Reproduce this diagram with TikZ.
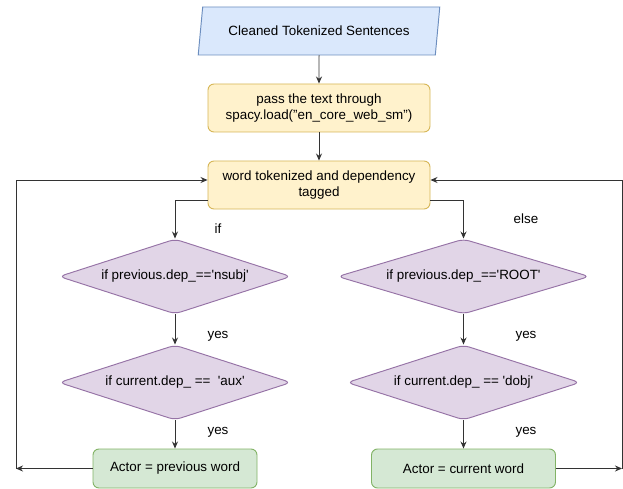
\documentclass[tikz,border=0pt]{standalone}
\usepackage{fontspec}
\setmainfont{Liberation Sans}
\usepackage{xcolor}
\usepackage{tikz}
\usetikzlibrary{shapes.geometric,arrows.meta}

\definecolor{inblue}{HTML}{DAE8FC}
\definecolor{inbluel}{HTML}{6C8EBF}
\definecolor{procy}{HTML}{FFF2CC}
\definecolor{procyl}{HTML}{D6B656}
\definecolor{condp}{HTML}{E1D5E7}
\definecolor{condpl}{HTML}{9673A6}
\definecolor{outg}{HTML}{D5E8D4}
\definecolor{outgl}{HTML}{82B366}
\newcommand{\sq}{\textquotesingle}

\begin{document}
\begin{tikzpicture}[x=1pt, y=-1pt,
        font=\fontsize{13.4}{15.5}\selectfont,
        >={Stealth[length=7pt,width=6pt]},
        every path/.style={line width=0.95pt},
        link/.style={->, draw=black!80},
        inbox/.style={draw=inbluel, fill=inblue, trapezium, trapezium left angle=70.5,
            trapezium right angle=109.5, trapezium stretches=true,
            minimum width=242pt, minimum height=48pt, inner sep=0pt},
        procbox/.style={draw=procyl, fill=procy, rounded corners=6pt, align=center,
            minimum width=222pt, minimum height=48pt, inner sep=0pt},
        cond/.style={draw=condpl, fill=condp, diamond, rounded corners=6pt,
            minimum height=75pt, inner sep=0pt, aspect=3},
        result/.style={draw=outgl, fill=outg, rounded corners=6pt,
            minimum height=39pt, inner sep=0pt}]
        \useasboundingbox (0,0) rectangle (623,489);
        % start and preprocessing
        \node[inbox] (sentences) at (319,31) {Cleaned Tokenized Sentences};
        \node[procbox] (spacy) at (319,108) {pass the text through\\spacy.load("en\_core\_web\_sm")};
        \node[procbox] (token) at (319,185) {word tokenized and dependency\\tagged};
        % the two branches
        \node[cond, minimum width=232pt] (ifnsubj) at (175,276.5) {if previous.dep\_==\sq nsubj\sq};
        \node[cond, minimum width=232pt] (ifaux) at (175,382.5) {if current.dep\_ ==\ \ \sq aux\sq};
        \node[cond, minimum width=252pt] (ifroot) at (463.5,276.5) {if previous.dep\_==\sq ROOT\sq};
        \node[cond, minimum width=233pt] (ifdobj) at (463.5,382.5) {if current.dep\_ == \sq dobj\sq};
        \node[result, minimum width=164pt] (prevword) at (175,468.5) {Actor = previous word};
        \node[result, minimum width=184pt] (curword) at (463.5,468.5) {Actor = current word};
        \coordinate (lcorner) at (16,468.5);
        \coordinate (rcorner) at (622,468.5);
        \draw[link] (sentences) -- (spacy);
        \draw[link] (spacy) -- (token);
        \draw[link] ([yshift=-15pt]token.west) -| (ifnsubj.north);
        \draw[link] ([yshift=-15pt]token.east) -| (ifroot.north);
        \draw[link] (ifnsubj) -- (ifaux);
        \draw[link] (ifaux) -- (prevword);
        \draw[link] (ifroot) -- (ifdobj);
        \draw[link] (ifdobj) -- (curword);
        % back to the next word
        \draw[link] (prevword) -- (lcorner);
        \draw[link] (lcorner) |- ([yshift=5pt]token.west);
        \draw[link] (curword) -- (rcorner);
        \draw[link] (rcorner) |- ([yshift=5pt]token.east);
        \node (iflbl) at (218,229) {if};
        \node (elselbl) at (526,219) {else};
        \foreach \i/\x/\y in {1/218/336, 2/218/432, 3/526/336, 4/526/432} { \node (yes\i) at (\x,\y) {yes}; }
    \end{tikzpicture}
\end{document}
